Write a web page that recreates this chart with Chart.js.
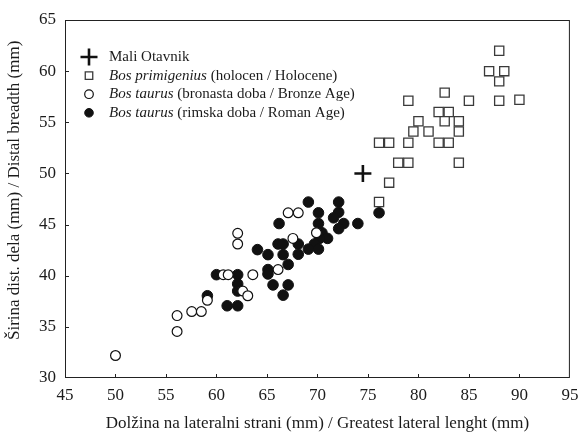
<!DOCTYPE html>
<html>
<head>
<meta charset="utf-8">
<script src="https://cdn.jsdelivr.net/npm/chart.js@4/dist/chart.umd.min.js"></script>
<style>
  html, body { margin: 0; padding: 0; background: #fff; }
  #wrap { width: 581px; height: 434px; }
</style>
</head>
<body>
<div id="wrap"><canvas id="c" width="581" height="434"></canvas></div>
<script>
// Greatest lateral length (x, mm) vs. distal breadth (y, mm)
const maliOtavnik = [[74.5, 50]];

const bosPrimigenius = [
  [88, 62], [87, 60], [88.5, 60], [88, 59], [82.6, 57.9], [79, 57.1], [85, 57.1],
  [88, 57.1], [90, 57.2], [82, 56], [83, 56], [80, 55.1], [82.6, 55.1], [84, 55.1],
  [79.5, 54.1], [81, 54.1], [84, 54.1], [76.1, 53], [77.1, 53], [79, 53], [82, 53],
  [83, 53], [78, 51.05], [79, 51.05], [84, 51.05], [77.1, 49.1], [76.1, 47.2]
];

const bosTaurusBronze = [
  [50, 32.2], [56.1, 34.55], [56.1, 36.1], [57.55, 36.5], [58.5, 36.5], [59.1, 37.6],
  [60.67, 40.1], [61.16, 40.1], [63.6, 40.1], [62.1, 44.15], [62.1, 43.1], [62.6, 38.5],
  [63.1, 38.04], [66.1, 40.6], [67.57, 43.65], [67.1, 46.15], [68.1, 46.15], [69.9, 44.2]
];

const bosTaurusRoman = [
  [59.1, 38.04], [60, 40.1], [62.1, 40.1], [62.1, 39.2], [62.1, 38.5], [61.06, 37.06],
  [62.1, 37.06], [64.06, 42.55], [65.1, 42.06], [65.1, 40.6], [65.1, 40.17], [65.6, 39.1],
  [66.6, 38.1], [67.1, 39.1], [67.1, 41.1], [66.1, 43.1], [66.6, 43.1], [66.6, 42.06],
  [68.1, 43.1], [68.1, 42.1], [66.2, 45.1], [69.1, 47.2], [72.1, 47.2], [70.1, 46.15],
  [72.1, 46.2], [71.6, 45.66], [76.1, 46.15], [70.1, 45.1], [72.6, 45.1], [74.0, 45.1],
  [72.1, 44.6], [70.45, 44.2], [71.0, 43.65], [70.2, 43.65], [69.7, 43.1], [69.1, 42.6],
  [70.1, 42.6]
];

// Legend text: species name (italic where it is a taxon) + note in roman type
const seriesNames = ['Mali Otavnik', 'Bos primigenius', 'Bos taurus', 'Bos taurus'];
const seriesNotes = ['', ' (holocen / Holocene)', ' (bronasta doba / Bronze Age)', ' (rimska doba / Roman Age)'];
const seriesItalic = [false, true, true, true];

const xTickValues = [45, 50, 55, 60, 65, 70, 75, 80, 85, 90, 95];
const yTickValues = [30, 35, 40, 45, 50, 55, 60, 65];

const xTitle = 'Dolžina na lateralni strani (mm) / Greatest lateral lenght (mm)';
const yTitle = 'Širina dist. dela (mm) / Distal breadth (mm)';

const FONT = '"Liberation Serif", "Times New Roman", serif';
const INK = '#1b1b1b';

const toPoints = arr => arr.map(p => ({ x: p[0], y: p[1] }));

const datasets = [
  { data: toPoints(maliOtavnik), pointStyle: 'cross', pointRadius: 8.5, pointBorderWidth: 2.6,
    borderColor: '#111', backgroundColor: '#111' },
  { data: toPoints(bosPrimigenius), pointStyle: 'rect', pointRadius: 6.5, pointBorderWidth: 1.3,
    borderColor: '#3a3a3a', backgroundColor: '#fff' },
  { data: toPoints(bosTaurusBronze), pointStyle: 'circle', pointRadius: 4.9, pointBorderWidth: 1.2,
    borderColor: '#111', backgroundColor: '#fff' },
  { data: toPoints(bosTaurusRoman), pointStyle: 'circle', pointRadius: 5.3, pointBorderWidth: 1,
    borderColor: '#111', backgroundColor: '#111' }
];
datasets.forEach((d, i) => {
  d.label = seriesNames[i] + seriesNotes[i];
  d.pointHoverRadius = d.pointRadius;
  d.showLine = false;
});

// Frame around the plot area plus short inward tick marks
const framePlugin = {
  id: 'frame',
  beforeDatasetsDraw(chart) {
    const { ctx, chartArea: a, scales } = chart;
    ctx.save();
    ctx.strokeStyle = '#222';
    ctx.lineWidth = 1;
    ctx.strokeRect(a.left + 0.5, a.top + 0.5, a.right - a.left - 1, a.bottom - a.top - 1);
    ctx.beginPath();
    scales.x.ticks.forEach(t => {
      if (t.value <= scales.x.min || t.value >= scales.x.max) return;
      const px = Math.round(scales.x.getPixelForValue(t.value)) + 0.5;
      ctx.moveTo(px, a.bottom);
      ctx.lineTo(px, a.bottom - 4);
    });
    scales.y.ticks.forEach(t => {
      if (t.value <= scales.y.min || t.value >= scales.y.max) return;
      const py = Math.round(scales.y.getPixelForValue(t.value)) + 0.5;
      ctx.moveTo(a.left, py);
      ctx.lineTo(a.left + 4, py);
    });
    ctx.stroke();
    ctx.restore();
  }
};

// Vertical axis title, set a little above the middle of the plot height
const yTitlePlugin = {
  id: 'yTitle',
  afterDraw(chart) {
    const { ctx, chartArea: a } = chart;
    ctx.save();
    ctx.font = '17px ' + FONT;
    ctx.fillStyle = INK;
    ctx.textAlign = 'left';
    ctx.textBaseline = 'middle';
    ctx.translate(15, a.bottom - 38);
    ctx.rotate(-Math.PI / 2);
    ctx.fillText(yTitle, 0, 0);
    ctx.restore();
  }
};

// Legend drawn inside the upper-left corner of the plot area
const insideLegend = {
  id: 'insideLegend',
  afterDatasetsDraw(chart) {
    const { ctx, chartArea: a } = chart;
    const markerX = a.left + 24;
    const textX = a.left + 44;
    const top = a.top + 37;
    const step = 18.6;
    ctx.save();
    ctx.textBaseline = 'middle';
    chart.data.datasets.forEach((ds, i) => {
      const y = top + i * step;
      ctx.strokeStyle = ds.borderColor;
      ctx.fillStyle = ds.backgroundColor;
      ctx.lineWidth = ds.pointBorderWidth;
      const r = ds.pointStyle === 'cross' ? 8.5 : (ds.pointStyle === 'rect' ? 5.3 : 4.3);
      Chart.helpers.drawPoint(ctx, { pointStyle: ds.pointStyle, radius: r, rotation: 0, borderWidth: ds.pointBorderWidth }, markerX, y);
      ctx.fillStyle = INK;
      let x = textX;
      ctx.font = (seriesItalic[i] ? 'italic ' : '') + '15px ' + FONT;
      ctx.fillText(seriesNames[i], x, y);
      x += ctx.measureText(seriesNames[i]).width;
      ctx.font = '15px ' + FONT;
      ctx.fillText(seriesNotes[i], x, y);
    });
    ctx.restore();
  }
};

new Chart(document.getElementById('c'), {
  type: 'scatter',
  data: { datasets },
  options: {
    responsive: false,
    animation: false,
    devicePixelRatio: 1,
    layout: { padding: { top: 20, right: 6, left: 0, bottom: 0 } },
    plugins: { legend: { display: false }, tooltip: { enabled: false } },
    scales: {
      x: {
        type: 'linear', min: 45, max: 95,
        afterBuildTicks: s => { s.ticks = xTickValues.map(v => ({ value: v })); },
        afterFit: s => { s.height = 56; s.paddingLeft = 0; s.paddingRight = 0; },
        grid: { display: false, drawTicks: false },
        border: { display: false },
        ticks: { color: INK, padding: 7, font: { family: FONT, size: 17 }, maxRotation: 0 },
        title: { display: true, text: xTitle, color: INK, font: { family: FONT, size: 17 }, padding: { top: 4, bottom: 0 } }
      },
      y: {
        type: 'linear', min: 30, max: 65,
        afterBuildTicks: s => { s.ticks = yTickValues.map(v => ({ value: v })); },
        afterFit: s => { s.width = 65; s.paddingTop = 0; s.paddingBottom = 0; },
        grid: { display: false, drawTicks: false },
        border: { display: false },
        ticks: { color: INK, padding: 9, font: { family: FONT, size: 17 } },
        title: { display: false }
      }
    }
  },
  plugins: [framePlugin, insideLegend, yTitlePlugin]
});
</script>
</body>
</html>
